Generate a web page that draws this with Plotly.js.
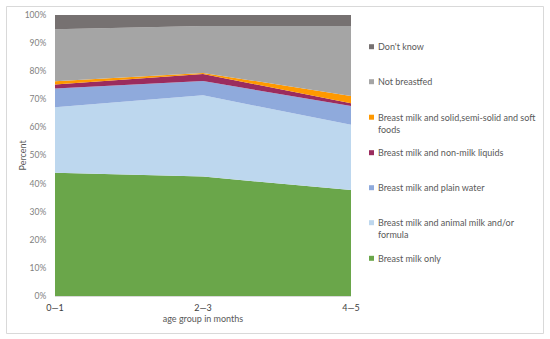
<!DOCTYPE html>
<html>
<head>
<meta charset="utf-8">
<script src="https://cdn.plot.ly/plotly-3.0.1.min.js"></script>
<style>html,body{margin:0;padding:0;background:#fff;}#chart{width:550px;height:339px;}</style>
</head>
<body>
<div id="chart"></div>
<script>
// Categories (age groups in months)
const categories = ["0\u20141", "2\u20143", "4\u20145"];

// Y tick values (percent)
const yTicks = [0, 10, 20, 30, 40, 50, 60, 70, 80, 90, 100];

// Series values (percent), bottom to top of the stack
const breastMilkOnly   = [43.9, 42.5, 37.7];
const animalMilk       = [23.3, 28.9, 23.2];
const plainWater       = [6.6, 5.1, 6.7];
const nonMilkLiquids   = [1.5, 2.5, 1.0];
const solidFoods       = [1.1, 0.4, 2.6];
const notBreastfed     = [18.5, 16.7, 24.9];
const dontKnow         = [5.1, 3.9, 3.9];

const seriesNames = [
  "Breast milk only",
  "Breast milk and animal milk and/or<br>formula",
  "Breast milk and plain water",
  "Breast milk and non-milk liquids",
  "Breast milk and solid,semi-solid and soft<br>foods",
  "Not breastfed",
  "Don't know"
];
const seriesValues = [breastMilkOnly, animalMilk, plainWater, nonMilkLiquids, solidFoods, notBreastfed, dontKnow];
const seriesColors = ["#6AA64A", "#BDD7EE", "#8FAADC", "#9B2C5E", "#FF9900", "#A5A5A5", "#767171"];

const xIdx = categories.map((c, i) => i);

const traces = seriesValues.map((vals, i) => ({
  type: "scatter",
  mode: "none",
  x: xIdx,
  y: vals,
  stackgroup: "one",
  fill: "tonexty",
  fillcolor: seriesColors[i],
  line: {width: 0},
  name: seriesNames[i],
  showlegend: false,
  hoverinfo: "skip"
}));

// Layout geometry (pixels)
const W = 550, H = 339;
const L = 55, R = 351, T = 15, B = 296;
const px2x = p => (p - L) / (R - L);
const py2y = p => (B - p) / (B - T);

// Legend built from series (top entry first)
const legendCenters = [258.3, 228.5, 187.7, 152.7, 123.2, 81.7, 46.7]; // per series, text block center
const legendFirstLine = [258.3, 222.7, 187.7, 152.7, 117.2, 81.7, 46.7];
const annotations = [];
const shapes = [];
seriesNames.forEach((n, i) => {
  annotations.push({
    xref: "paper", yref: "paper",
    x: px2x(376), y: py2y(legendCenters[i]),
    xanchor: "left", yanchor: "middle", align: "left",
    text: n, showarrow: false,
    font: {family: "Lato, 'Noto Sans', sans-serif", size: 9, color: "#595959"}
  });
  shapes.push({
    type: "rect", xref: "paper", yref: "paper",
    x0: px2x(369), x1: px2x(374),
    y0: py2y(legendFirstLine[i] + 2.5), y1: py2y(legendFirstLine[i] - 2.5),
    fillcolor: seriesColors[i], line: {width: 0}
  });
});
// Y axis title
annotations.push({
  xref: "paper", yref: "paper",
  x: px2x(22), y: 0.5, xanchor: "center", yanchor: "middle",
  text: "Percent", textangle: -90, showarrow: false,
  font: {family: "Lato, 'Noto Sans', sans-serif", size: 9, color: "#595959"}
});
// Chart frame
shapes.push({
  type: "rect", xref: "paper", yref: "paper",
  x0: px2x(6.5), x1: px2x(543.5), y0: py2y(333.5), y1: py2y(6.5),
  line: {color: "#D9D9D9", width: 1}, fillcolor: "rgba(0,0,0,0)", layer: "below"
});

const layout = {
  width: W, height: H,
  margin: {l: L, r: W - R, t: T, b: H - B, pad: 0},
  paper_bgcolor: "#fff", plot_bgcolor: "#fff",
  showlegend: false,
  font: {family: "Lato, 'Noto Sans', sans-serif", size: 9, color: "#595959"},
  xaxis: {
    type: "linear",
    range: [0, 2],
    tickvals: xIdx, ticktext: categories,
    showgrid: false, zeroline: false,
    showline: true, linecolor: "#D9D9D9", linewidth: 1,
    ticks: "outside", ticklen: 3, tickcolor: "rgba(0,0,0,0)",
    tickfont: {size: 9, color: "#404040"},
    title: {text: "age group in months", font: {size: 9, color: "#595959"}, standoff: 2}
  },
  yaxis: {
    range: [0, 100],
    tickvals: yTicks,
    ticktext: yTicks.map(v => v + "%"),
    showgrid: false, zeroline: false, showline: false,
    ticks: "outside", ticklen: 6, tickcolor: "rgba(0,0,0,0)",
    tickfont: {size: 8.5, color: "#7F7F7F"}
  },
  annotations: annotations,
  shapes: shapes
};

Plotly.newPlot("chart", traces, layout, {staticPlot: true, displayModeBar: false});
</script>
</body>
</html>
